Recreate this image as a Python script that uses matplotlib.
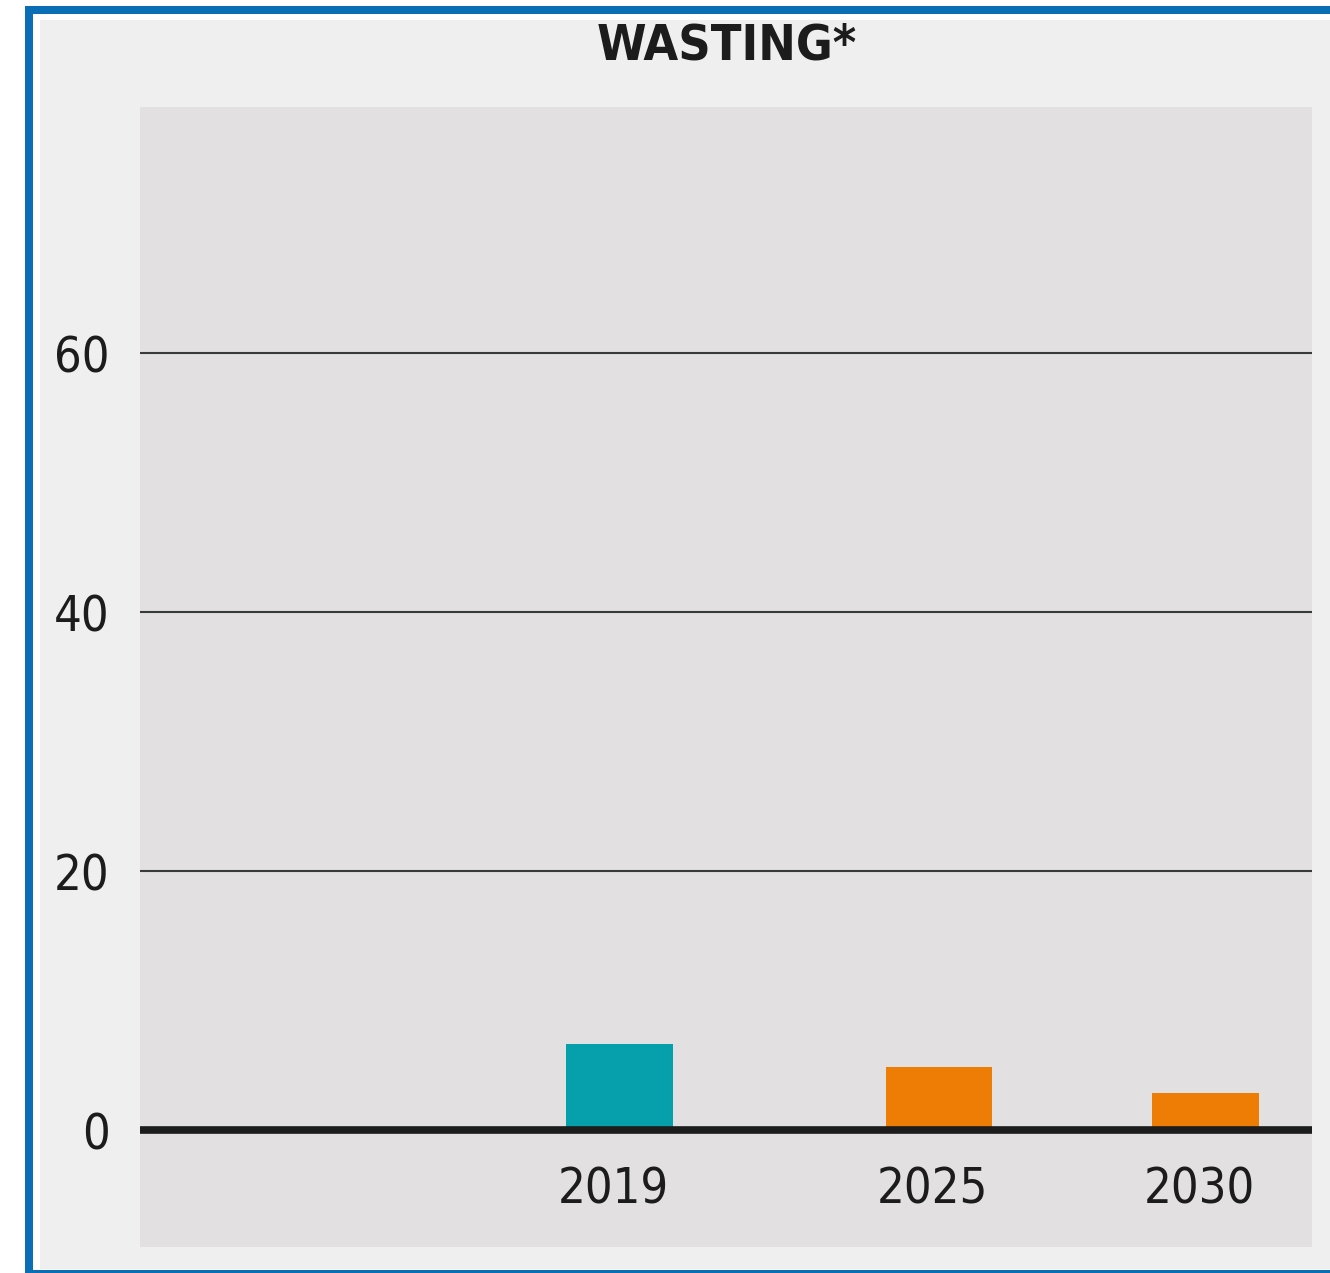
import matplotlib
matplotlib.use("Agg")
import matplotlib.pyplot as plt
from matplotlib.patches import Rectangle

# wasting prevalence (%), observed and target years
years = [2019, 2025, 2030]
values = [6.7, 4.9, 2.9]
bar_colors = ["#05a0ac", "#ee7d05", "#ee7d05"]
yticks = [0, 20, 40, 60]
title = "WASTING*"

plt.rcParams["font.family"] = ["Liberation Sans Narrow", "DejaVu Sans Condensed", "DejaVu Sans"]
plt.rcParams["font.stretch"] = "condensed"

W, H = 1330, 1273
fig = plt.figure(figsize=(W / 100, H / 100), dpi=100, facecolor="white")

def box(x0, y0, x1, y1, color):
    # rectangle given in pixels from the top-left corner
    fig.add_artist(Rectangle((x0 / W, 1 - y1 / H), (x1 - x0) / W, (y1 - y0) / H,
                             transform=fig.transFigure, facecolor=color,
                             edgecolor="none", zorder=0))

# blue frame, thin white inset, light grey panel
box(25, 6, W + 5, 1273, "#0a6eb4")
box(33, 14, W + 5, 1270, "white")
box(40, 20, W + 5, 1269, "#efefef")

ax = fig.add_axes([140 / W, 1 - 1247 / H, 1172 / W, 1140 / H])
ax.set_facecolor("#e2e0e1")
for s in ax.spines.values():
    s.set_visible(False)

ax.bar(years, values, width=2.0, color=bar_colors, zorder=2)

for v in yticks[1:]:
    ax.axhline(v, color="#3a3a3a", linewidth=1.5, zorder=1)
ax.axhline(0, color="#1c1c1c", linewidth=5.5, zorder=3)

ax.set_xlim(2010, 2032)
ax.set_ylim(-9, 79)
ax.set_yticks(yticks)
ax.set_yticklabels([str(v) for v in yticks], fontsize=35, color="#1c1c1c")
ax.tick_params(axis="y", length=0, pad=22)
ax.set_xticks([])

for yr in years:
    ax.text(yr - 0.12, -4.6, str(yr), ha="center", va="center",
            fontsize=35, color="#1c1c1c")

fig.text(727 / W, 1 - 46 / H, title, ha="center", va="center",
         fontsize=36, fontweight="bold", color="#1c1c1c")

fig.savefig("out.png", dpi=100, facecolor=fig.get_facecolor())
